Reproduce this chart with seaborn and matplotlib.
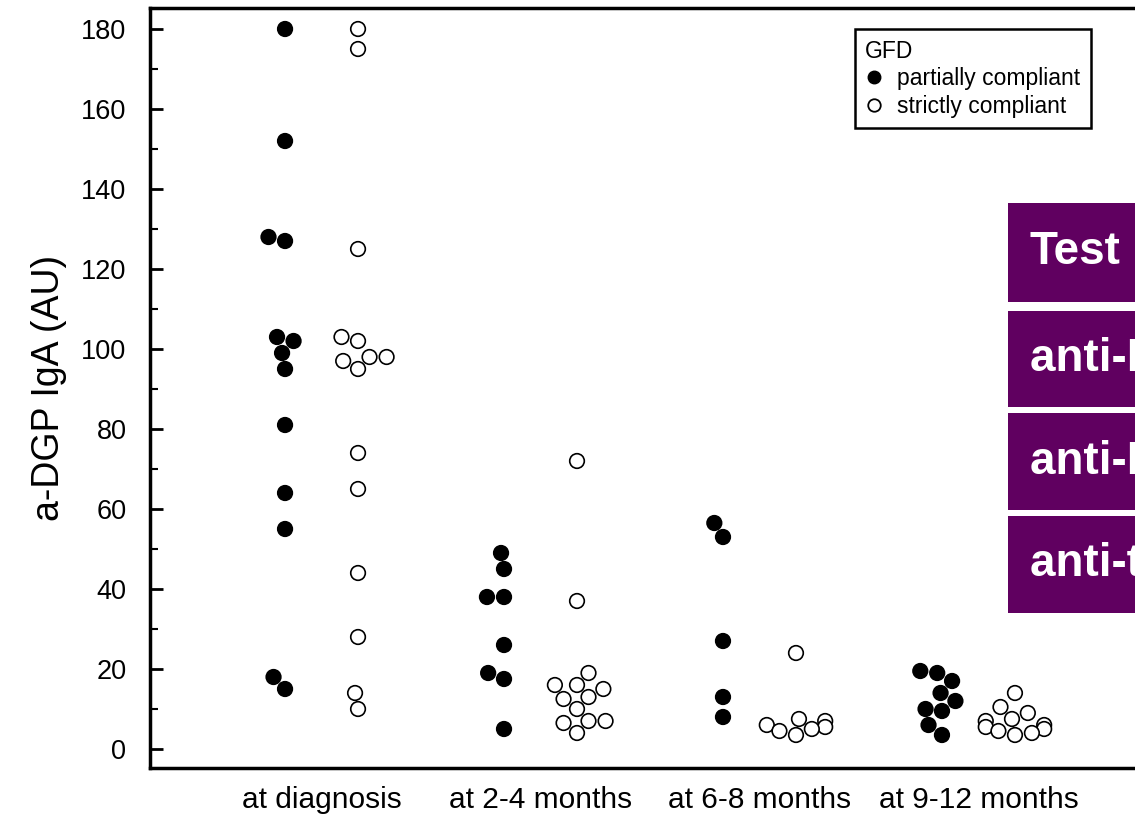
import matplotlib
matplotlib.use("Agg")
import matplotlib.pyplot as plt
import seaborn as sns
import pandas as pd
from matplotlib.lines import Line2D
from matplotlib.patches import Rectangle
from matplotlib.ticker import MultipleLocator

# ---------------- data ----------------
timepoints = ["at diagnosis", "at 2-4 months", "at 6-8 months", "at 9-12 months"]
groups = ["partially compliant", "strictly compliant"]

diag_partial = [180, 152, 128, 127, 103, 102, 99, 95, 81, 64, 55, 18, 15]
diag_strict = [180, 175, 125, 103, 102, 98, 98, 97, 95, 74, 65, 44, 28, 14, 10]
m2_4_partial = [49, 45, 38, 38, 26, 19, 17.5, 5]
m2_4_strict = [72, 37, 19, 16, 16, 15, 13, 12.5, 10, 7, 7, 6.5, 4]
m6_8_partial = [56.5, 53, 27, 13, 8]
m6_8_strict = [24, 7.5, 7, 6, 5.5, 5, 4.5, 3.5]
m9_12_partial = [19.5, 19, 17, 14, 12, 10, 9.5, 6, 3.5]
m9_12_strict = [14, 10.5, 9, 7.5, 7, 6, 5.5, 5, 4.5, 4, 3.5]

yticks = [0, 20, 40, 60, 80, 100, 120, 140, 160, 180]
ylabel = "a-DGP IgA (AU)"
legend_title = "GFD"
table_rows = ["Test", "anti-DGP IgA", "anti-DGP IgG", "anti-tTG IgA"]

series = {
    ("at diagnosis", "partially compliant"): diag_partial,
    ("at diagnosis", "strictly compliant"): diag_strict,
    ("at 2-4 months", "partially compliant"): m2_4_partial,
    ("at 2-4 months", "strictly compliant"): m2_4_strict,
    ("at 6-8 months", "partially compliant"): m6_8_partial,
    ("at 6-8 months", "strictly compliant"): m6_8_strict,
    ("at 9-12 months", "partially compliant"): m9_12_partial,
    ("at 9-12 months", "strictly compliant"): m9_12_strict,
}

rows = []
for (t, g), vals in series.items():
    for v in vals:
        rows.append({"time": t, "gfd": g, "slot": f"{t}|{g}", "value": v})
df = pd.DataFrame(rows)

# slot order: partial, strict, spacer for each time point
order = []
for t in timepoints:
    order += [f"{t}|{groups[0]}", f"{t}|{groups[1]}", f"{t}|gap"]
order = order[:-1]

# ---------------- figure ----------------
sns.set_style("ticks")
plt.rcParams["font.family"] = ["Liberation Sans", "DejaVu Sans"]
plt.rcParams["text.color"] = "black"
plt.rcParams["axes.labelcolor"] = "black"
plt.rcParams["xtick.color"] = "black"
plt.rcParams["ytick.color"] = "black"

W, H = 1135, 814
fig = plt.figure(figsize=(W / 100, H / 100), dpi=100)
ax = fig.add_axes([150 / W, 46 / H, 1000 / W, 760 / H])

sns.swarmplot(data=df, x="slot", y="value", hue="gfd", order=order,
              hue_order=groups,
              palette={groups[0]: "black", groups[1]: "white"},
              size=10.5, edgecolor="black", linewidth=1.2, legend=False, ax=ax)

ax.set_xlim(-1.85, 11.85)
ax.set_ylim(-4.75, 185.25)

centers = [order.index(f"{t}|{groups[0]}") + 0.5 for t in timepoints]
ax.set_xticks(centers)
ax.set_xticklabels(timepoints, fontsize=21.5)
ax.set_xlabel("")
ax.set_ylabel(ylabel, fontsize=27, labelpad=10)

ax.set_yticks(yticks)
ax.set_yticklabels([str(v) for v in yticks])
ax.yaxis.set_minor_locator(MultipleLocator(10))
ax.tick_params(axis="y", which="major", direction="in", length=9, width=2,
               labelsize=19.5, pad=17)
ax.tick_params(axis="y", which="minor", direction="in", length=6, width=1.5)
ax.tick_params(axis="x", which="both", length=0, pad=13)

for s in ["left", "bottom", "top", "right"]:
    ax.spines[s].set_visible(True)
    ax.spines[s].set_linewidth(2.5)
    ax.spines[s].set_color("black")

handles = [
    Line2D([], [], marker="o", ls="", markerfacecolor="black",
           markeredgecolor="black", markersize=9),
    Line2D([], [], marker="o", ls="", markerfacecolor="white",
           markeredgecolor="black", markersize=9, markeredgewidth=1.3),
]
leg = ax.legend(handles, groups, title=legend_title, loc="upper left",
                bbox_to_anchor=(0.705, 0.972), frameon=True, fancybox=False,
                framealpha=1, edgecolor="black", fontsize=16.5,
                title_fontsize=16.5, alignment="left", handlelength=0.8,
                handletextpad=0.6, labelspacing=0.2, borderpad=0.45,
                borderaxespad=0)
leg.get_frame().set_linewidth(1.8)
leg.get_frame().set_edgecolor("black")

# ---------------- overlay table ----------------
row_px = [(203, 302), (311, 407), (413, 510), (516, 613)]
for (top, bot), label in zip(row_px, table_rows):
    rect = Rectangle((1008 / W, 1 - bot / H), 200 / W, (bot - top) / H,
                     transform=fig.transFigure, facecolor="#600060",
                     edgecolor="none", zorder=5)
    fig.add_artist(rect)
    fig.text(1030 / W, 1 - ((top + bot) / 2) / H, label, color="white",
             fontsize=33, fontweight="bold", va="center", ha="left", zorder=6)

fig.savefig("out.png", dpi=100)
